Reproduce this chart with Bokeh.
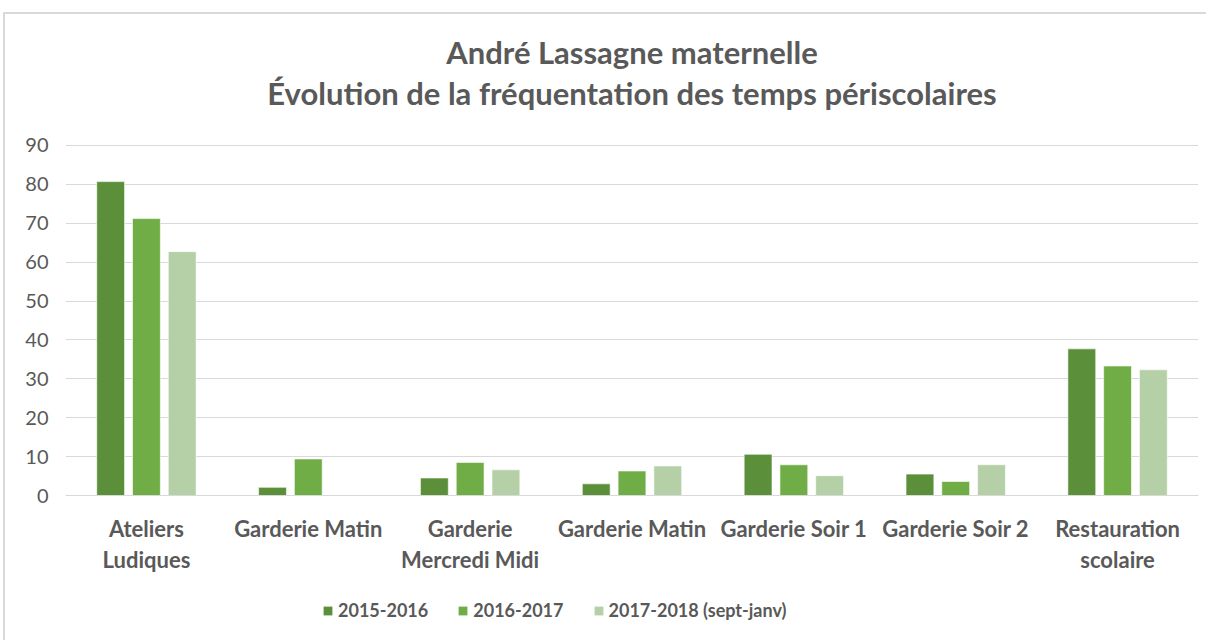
from bokeh.plotting import figure
from bokeh.layouts import column
from bokeh.models import Range1d, FixedTicker, LinearAxis, Legend, LegendItem, Title
from bokeh.embed import file_html
from bokeh.resources import INLINE

categories = ["Ateliers Ludiques", "Garderie Matin", "Garderie Mercredi Midi", "Garderie Matin",
              "Garderie Soir 1", "Garderie Soir 2", "Restauration scolaire"]
label_line1 = ["Ateliers", "Garderie Matin", "Garderie", "Garderie Matin",
               "Garderie Soir 1", "Garderie Soir 2", "Restauration"]
label_line2 = ["Ludiques", "", "Mercredi Midi", "", "", "", "scolaire"]
series = ["2015-2016", "2016-2017", "2017-2018 (sept-janv)"]
v2015 = [80.7, 2.1, 4.5, 3.0, 10.6, 5.5, 37.7]
v2016 = [71.2, 9.4, 8.5, 6.3, 7.9, 3.6, 33.3]
v2017 = [62.7, 0.0, 6.6, 7.6, 5.1, 7.9, 32.3]
colors = ["#5B8F3A", "#70AD47", "#B5CFA6"]
y_ticks = [0, 10, 20, 30, 40, 50, 60, 70, 80, 90]
title_lines = ["André Lassagne maternelle",
               "Évolution de la fréquentation des temps périscolaires"]

FONT = "Lato"
TXT = "#595959"
GRID = "#D9D9D9"
YMAX = 90.5
FW, FH = 1133, 352
LEFT, RIGHT = 62, 8

xs = list(range(len(categories)))

p = figure(frame_width=FW, frame_height=FH, output_backend="svg", toolbar_location=None,
           x_range=Range1d(-0.5, len(categories) - 0.5), y_range=Range1d(0, YMAX),
           min_border_left=LEFT, min_border_right=RIGHT, min_border_top=0, min_border_bottom=85)
p.outline_line_color = None
p.background_fill_color = "white"
p.border_fill_color = None
p.styles = {"margin-left": "3px", "margin-top": "12px",
            "box-shadow": f"inset 2px 2px 0 {GRID}"}

offsets = [-0.221, 0.0, 0.221]
renderers = []
for vals, off, col in zip([v2015, v2016, v2017], offsets, colors):
    r = p.vbar(x=[x + off for x in xs], top=vals, width=0.172, bottom=0,
               fill_color=col, line_color="white", line_alpha=0.6, line_width=1)
    renderers.append(r)

# y axis
p.yaxis.ticker = FixedTicker(ticks=y_ticks)
p.yaxis.axis_line_color = None
p.yaxis.major_tick_line_color = None
p.yaxis.major_tick_out = 0
p.yaxis.major_tick_in = 0
p.yaxis.minor_tick_line_color = None
p.yaxis.major_label_text_font = FONT
p.yaxis.major_label_text_font_size = "20px"
p.yaxis.major_label_text_color = TXT
p.yaxis.major_label_standoff = 17

p.ygrid.ticker = FixedTicker(ticks=y_ticks)
p.ygrid.grid_line_color = GRID
p.xgrid.grid_line_color = None

# x axis line 1
xa = p.xaxis[0]
xa.ticker = FixedTicker(ticks=xs)
xa.major_label_overrides = {i: t for i, t in enumerate(label_line1)}
xa.axis_line_color = GRID
xa.major_tick_line_color = None
xa.major_tick_out = 0
xa.major_tick_in = 0
xa.minor_tick_line_color = None
xa.major_label_text_font = FONT
xa.major_label_text_font_size = "22px"
xa.major_label_text_font_style = "bold"
xa.major_label_text_color = TXT
xa.major_label_standoff = 19

# x axis line 2
xa2 = LinearAxis(ticker=FixedTicker(ticks=xs),
                 major_label_overrides={i: t for i, t in enumerate(label_line2)})
xa2.axis_line_color = None
xa2.major_tick_line_color = None
xa2.major_tick_out = 0
xa2.major_tick_in = 0
xa2.minor_tick_line_color = None
xa2.major_label_text_font = FONT
xa2.major_label_text_font_size = "22px"
xa2.major_label_text_font_style = "bold"
xa2.major_label_text_color = TXT
xa2.major_label_standoff = 1
p.add_layout(xa2, "below")

# small spacer between title block and plot area, then the two-line title
spacer = Title(text=" ", text_font_size="10px", standoff=0)
p.add_layout(spacer, "above")
title = Title(text="\n".join(title_lines), align="center", text_align="center",
              text_font=FONT, text_font_size="31px", text_line_height=1.1,
              text_color=TXT, text_font_style="bold", standoff=36)
p.add_layout(title, "above")

# legend strip below the chart
LH = 60
lg = figure(width=LEFT + FW + RIGHT, height=LH, output_backend="svg", toolbar_location=None,
            x_range=Range1d(0, 1), y_range=Range1d(0, 1), x_axis_type=None, y_axis_type=None,
            min_border=0)
lg.outline_line_color = None
lg.background_fill_color = None
lg.border_fill_color = None
lg.grid.visible = False
lg.styles = {"margin-left": "3px", "box-shadow": f"inset 2px 0 0 {GRID}"}
# legend-only renderers (their bar lies entirely outside the visible range)
dummies = [lg.vbar(x=[0.5], top=[-1], bottom=[-2], width=0.1, fill_color=c, line_color=None)
           for c in colors]
legend = Legend(items=[LegendItem(label=s, renderers=[r]) for s, r in zip(series, dummies)],
                orientation="horizontal", location=(257, 19),
                label_text_font=FONT, label_text_font_size="18px", label_text_font_style="bold",
                label_text_color=TXT, glyph_width=11, glyph_height=11, spacing=29,
                label_standoff=5, label_height=20,
                border_line_color=None, background_fill_alpha=0, margin=0, padding=0)
lg.add_layout(legend, "center")

layout = column(p, lg, spacing=0)
open("out.html", "w").write(file_html(layout, INLINE))
